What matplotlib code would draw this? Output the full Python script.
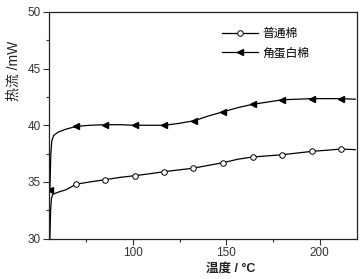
import matplotlib
matplotlib.use("Agg")
import matplotlib.pyplot as plt
from matplotlib.ticker import MultipleLocator

plt.rcParams['font.family'] = ['Liberation Sans', 'Noto Sans CJK SC', 'DejaVu Sans']

# 普通棉 (ordinary cotton)
t_plain = [55.5, 55.9, 56.3, 57.0, 60.0, 64.0, 69.6, 77.0, 85.2, 93.0, 101.0, 108.0, 116.7,
           124.0, 132.0, 140.0, 148.4, 156.0, 164.0, 172.0, 180.0, 188.0, 196.0, 204.0, 211.5, 219.0]
v_plain = [30.0, 32.5, 33.5, 33.9, 34.1, 34.3, 34.8, 35.0, 35.2, 35.4, 35.55, 35.7, 35.9,
           36.05, 36.2, 36.45, 36.7, 37.0, 37.2, 37.3, 37.4, 37.55, 37.7, 37.8, 37.9, 37.85]
mk_plain = [6, 8, 10, 12, 14, 16, 18, 20, 22, 24]

# 角蛋白棉 (keratin cotton)
t_ker = [55.5, 56.0, 56.5, 57.5, 60.0, 64.0, 69.6, 77.0, 85.2, 93.0, 101.0, 108.0, 116.7,
         124.0, 132.7, 140.0, 148.4, 156.0, 164.0, 172.0, 180.0, 188.0, 195.6, 203.0, 211.5, 219.0]
v_ker = [34.3, 37.5, 38.6, 39.1, 39.4, 39.65, 39.9, 40.0, 40.05, 40.05, 40.0, 40.0, 40.0,
         40.15, 40.4, 40.8, 41.2, 41.55, 41.85, 42.05, 42.25, 42.3, 42.35, 42.35, 42.35, 42.3]
mk_ker = [0, 6, 8, 10, 12, 14, 16, 18, 20, 22, 24]

labels = ['普通棉', '角蛋白棉']
xlabel = '温度 / °C'
ylabel = '热流 /mW'

fig = plt.figure(figsize=(3.6, 2.79), dpi=100)
ax = fig.add_axes([0.136, 0.145, 0.856, 0.812])

ax.plot(t_plain, v_plain, color='black', lw=0.9, marker='o', markevery=mk_plain,
        markersize=4, markerfacecolor='white', markeredgecolor='black', markeredgewidth=0.7,
        label=labels[0])
ax.plot(t_ker, v_ker, color='black', lw=0.9, marker='<', markevery=mk_ker,
        markersize=4.5, markerfacecolor='black', markeredgecolor='black',
        label=labels[1])

ax.set_xlim(55, 220)
ax.set_ylim(30, 50)
ax.xaxis.set_major_locator(MultipleLocator(50))
ax.xaxis.set_minor_locator(MultipleLocator(25))
ax.yaxis.set_major_locator(MultipleLocator(5))
ax.yaxis.set_minor_locator(MultipleLocator(2.5))
ax.tick_params(which='major', direction='out', length=4, width=0.8, labelsize=8.5,
               labelcolor='#333333', color='#333333', pad=2)
ax.tick_params(which='minor', direction='out', length=2.5, width=0.8, color='#333333')
for s in ax.spines.values():
    s.set_linewidth(0.9)
    s.set_color('#222222')

ax.set_ylabel(ylabel, fontsize=10, color='#222222',
              family=['Liberation Sans', 'Noto Sans CJK SC'])
ax.yaxis.set_label_coords(-0.092, 0.74)
ax.set_xlabel(xlabel, fontsize=9, color='#222222', fontweight='bold',
              family=['Liberation Sans', 'Noto Sans CJK SC'])
ax.xaxis.set_label_coords(0.59, -0.105)

leg = ax.legend(loc='upper left', bbox_to_anchor=(0.535, 0.97), frameon=False,
                prop={'family': ['Noto Sans CJK SC'], 'size': 8.5},
                handlelength=3.0, handletextpad=0.4, labelspacing=0.55, borderpad=0.2)

fig.savefig('out.png', dpi=100)
